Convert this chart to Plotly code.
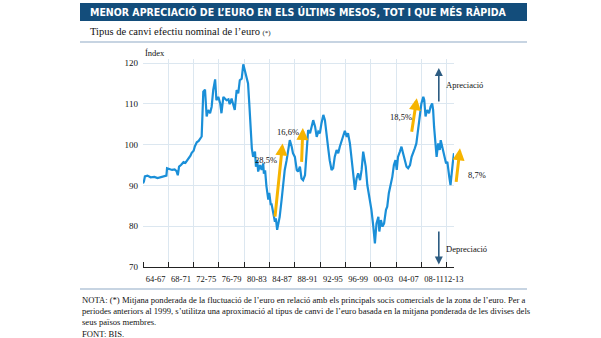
import plotly.graph_objects as go

# ---- data ----
years = [1964.0, 1964.15, 1964.3, 1964.7, 1965.2, 1965.8, 1966.3, 1966.8, 1967.3, 1967.7,
         1967.8, 1968.2, 1968.6, 1969.0, 1969.3, 1969.5, 1969.7, 1970.0, 1970.4, 1970.7,
         1970.9, 1971.2, 1971.5, 1971.7, 1972.0, 1972.2, 1972.5, 1972.8, 1973.0, 1973.27,
         1973.53, 1973.8, 1974.06, 1974.3, 1974.6, 1974.85, 1975.1, 1975.4, 1975.6, 1975.9,
         1976.2, 1976.4, 1976.7, 1976.95, 1977.2, 1977.5, 1977.7, 1978.0, 1978.3, 1978.5,
         1978.8, 1979.05, 1979.3, 1979.6, 1979.85, 1980.1, 1980.4, 1980.6, 1980.8, 1980.95,
         1981.2, 1981.4, 1981.7, 1981.85, 1982.05, 1982.2, 1982.5, 1982.75, 1983.0, 1983.1,
         1983.3, 1983.5, 1983.8, 1983.95, 1984.2, 1984.3, 1984.6, 1984.85, 1985.0, 1985.2,
         1985.4, 1985.6, 1985.9, 1986.15, 1986.4, 1986.7, 1986.95, 1987.2, 1987.5, 1987.7,
         1988.0, 1988.3, 1988.5, 1988.8, 1989.05, 1989.3, 1989.6, 1989.85, 1990.1, 1990.4,
         1990.65, 1990.9, 1991.2, 1991.45, 1991.7, 1991.95, 1992.2, 1992.5, 1992.75, 1993.0,
         1993.3, 1993.5, 1993.8, 1994.05, 1994.3, 1994.6, 1994.85, 1995.1, 1995.6, 1995.9,
         1996.2, 1996.4, 1996.7, 1996.95, 1997.2, 1997.5, 1997.75, 1998.0, 1998.3, 1998.55,
         1998.8, 1998.95, 1999.2, 1999.45, 1999.75, 2000.1, 2000.4, 2000.65, 2000.9, 2001.2,
         2001.35, 2001.6, 2001.85, 2002.1, 2002.4, 2002.6, 2002.85, 2003.1, 2003.4, 2003.65,
         2003.9, 2004.1, 2004.3, 2004.6, 2004.85, 2005.1, 2005.4, 2005.65, 2005.9, 2006.2,
         2006.45, 2006.7, 2006.95, 2007.2, 2007.5, 2007.75, 2008.0, 2008.3, 2008.45, 2008.65,
         2008.9, 2009.2, 2009.45, 2009.7, 2009.85, 2010.0, 2010.2, 2010.4, 2010.65, 2010.9,
         2011.05, 2011.3, 2011.45, 2011.7, 2011.9, 2012.1, 2012.2, 2012.4, 2012.6, 2012.75,
         2012.95, 2013.15]
index_values = [90.5, 91.0, 92.2, 92.4, 92.0, 92.1, 91.8, 92.0, 92.2, 92.4,
                94.2, 94.0, 93.8, 93.9, 93.5, 92.5, 94.6, 95.0, 95.7, 95.5,
                95.9, 96.5, 97.3, 98.0, 98.5, 99.6, 100.6, 100.9, 101.4, 102.0,
                113.0, 113.5, 106.9, 108.5, 107.7, 109.3, 113.4, 116.0, 110.9, 111.7,
                110.1, 107.7, 111.7, 111.3, 110.9, 111.1, 109.9, 111.3, 109.3, 108.5,
                113.4, 112.6, 115.8, 116.2, 119.7, 118.2, 116.6, 115.0, 110.0, 104.5,
                99.1, 97.0, 98.3, 94.6, 96.2, 93.4, 95.0, 93.8, 95.4, 92.9,
                93.7, 89.9, 86.5, 88.2, 85.2, 85.6, 83.2, 81.1, 81.9, 79.1,
                80.7, 82.3, 86.4, 90.5, 93.8, 96.2, 98.7, 101.1, 99.5, 97.9,
                97.0, 93.8, 93.4, 94.6, 91.7, 91.3, 92.5, 97.0, 103.6, 102.8,
                104.4, 106.0, 104.4, 101.9, 103.2, 102.8, 105.2, 107.3, 106.0, 101.9,
                98.7, 96.2, 93.8, 94.2, 97.0, 98.7, 97.9, 99.5, 101.9, 103.4,
                101.9, 102.8, 100.3, 97.0, 93.8, 88.9, 91.7, 93.0, 91.3, 93.8,
                98.3, 97.1, 94.6, 90.1, 87.6, 84.0, 79.9, 75.8, 80.7, 82.3,
                78.7, 81.5, 79.9, 80.7, 84.0, 84.8, 88.1, 89.7, 92.1, 95.0,
                96.2, 93.8, 97.0, 98.3, 99.5, 97.9, 95.8, 94.6, 94.2, 95.0,
                97.0, 97.9, 99.1, 100.3, 103.6, 106.9, 110.1, 111.7, 110.9, 106.9,
                108.5, 107.7, 109.3, 110.1, 108.5, 104.4, 101.5, 97.0, 100.3, 98.7,
                101.1, 99.5, 97.9, 97.0, 95.4, 95.8, 93.8, 92.1, 90.1, 92.9,
                95.4, 97.9]

period_bounds = [1964, 1968, 1972, 1976, 1980, 1984, 1988, 1992, 1996, 2000, 2004, 2008, 2012]
period_label_pos = [1966, 1970, 1974, 1978, 1982, 1986, 1990, 1994, 1998, 2002, 2006, 2010, 2013.1]
period_labels = ["64-67", "68-71", "72-75", "76-79", "80-83", "84-87", "88-91", "92-95",
                 "96-99", "00-03", "04-07", "08-11", "12-13"]
y_ticks = [70, 80, 90, 100, 110, 120]

# rises marked with orange arrows: (start year, start value, end year, end value, label)
rises = [
    (1984.84, 82.0, 1986.06, 100.3, "28,5%"),
    (1989.06, 95.4, 1989.26, 104.1, "16,6%"),
    (2006.43, 102.8, 2007.27, 111.4, "18,5%"),
]

title = "MENOR APRECIACIÓ DE L’EURO EN ELS ÚLTIMS MESOS, TOT I QUE MÉS RÀPIDA"
subtitle = "Tipus de canvi efectiu nominal de l’euro"
note_lines = [
    "NOTA: (*) Mitjana ponderada de la fluctuació de l’euro en relació amb els principals socis comercials de la zona de l’euro. Per a",
    "periodes anteriors al 1999, s’utilitza una aproximació al tipus de canvi de l’euro basada en la mitjana ponderada de les divises dels",
    "seus països membres.",
    "FONT: BIS.",
]

# ---- layout geometry (pixels) ----
W, H = 601, 338
L, R, T, B = 143, 147, 59, 71
PW, PH = W - L - R, H - T - B

def px(x):
    return (x - L) / PW

def py(y):
    return (H - B - y) / PH

SERIF = "Liberation Serif"
BLUE = "#1a8fd8"
ORANGE = "#f6b400"
DARK = "#2d5c82"
RULE = "#8fa9c5"
GRID = "#dce7f0"

fig = go.Figure()
fig.add_trace(go.Scatter(x=years, y=index_values, mode="lines",
                         line=dict(color=BLUE, width=2.2), hoverinfo="skip"))

ann = []
shapes = []

# header band + title
shapes.append(dict(type="rect", xref="paper", yref="paper", x0=px(80), x1=px(527),
                   y0=py(21), y1=py(3), fillcolor="#134d7b", line=dict(width=0), layer="below"))
ann.append(dict(text=title, xref="paper", yref="paper", x=px(88), y=py(12), xanchor="left",
                yanchor="middle", showarrow=False,
                font=dict(family="DejaVu Sans Condensed", size=10.5, color="white", weight="bold")))
# subtitle
ann.append(dict(text=subtitle + " <span style='font-size:7px'>(*)</span>", xref="paper", yref="paper",
                x=px(88), y=py(31), xanchor="left", yanchor="middle", showarrow=False,
                font=dict(family=SERIF, size=10.5, color="#111")))
shapes.append(dict(type="line", xref="paper", yref="paper", x0=px(80), x1=px(527),
                   y0=py(42), y1=py(42), line=dict(color=RULE, width=1)))
# Index label
ann.append(dict(text="Índex", xref="paper", yref="paper", x=px(143), y=py(53), xanchor="left",
                yanchor="middle", showarrow=False, font=dict(family=SERIF, size=8.5, color="#111")))

# orange arrows
for x0, y0, x1, y1, lab in rises:
    ann.append(dict(x=x1, y=y1, ax=x0, ay=y0, xref="x", yref="y", axref="x", ayref="y",
                    text="", showarrow=True, arrowhead=2, arrowsize=0.8, arrowwidth=3,
                    arrowcolor=ORANGE))
label_pos = {"28,5%": (1983.5, 96.2), "16,6%": (1986.9, 103.1), "18,5%": (2004.75, 106.8)}
for lab, (lx, ly) in label_pos.items():
    ann.append(dict(x=lx, y=ly, xref="x", yref="y", text=lab, showarrow=False,
                    xanchor="center", yanchor="middle",
                    font=dict(family=SERIF, size=8.5, color="#111")))
# last rise (beyond axis end)
ann.append(dict(x=px(460), y=99.1, xref="paper", yref="y", ax=-4, ay=35, text="",
                showarrow=True, arrowhead=2, arrowsize=0.8, arrowwidth=3, arrowcolor=ORANGE))
ann.append(dict(x=px(466), y=92.5, xref="paper", yref="y", text="8,7%", showarrow=False,
                xanchor="left", yanchor="middle", font=dict(family=SERIF, size=8.5, color="#111")))

# appreciation / depreciation arrows
ann.append(dict(x=2010.75, y=118.8, ax=2010.75, ay=110.2, xref="x", yref="y", axref="x", ayref="y",
                text="", showarrow=True, arrowhead=2, arrowsize=1, arrowwidth=1.6, arrowcolor=DARK))
ann.append(dict(x=2010.75, y=70.6, ax=2010.75, ay=79.1, xref="x", yref="y", axref="x", ayref="y",
                text="", showarrow=True, arrowhead=2, arrowsize=1, arrowwidth=1.6, arrowcolor=DARK))
ann.append(dict(x=2011.55, y=114.6, xref="x", yref="y", text="Apreciació", showarrow=False,
                xanchor="left", yanchor="middle", font=dict(family=SERIF, size=8.5, color="#111")))
ann.append(dict(x=2011.55, y=74.4, xref="x", yref="y", text="Depreciació", showarrow=False,
                xanchor="left", yanchor="middle", font=dict(family=SERIF, size=8.5, color="#111")))

# footer
shapes.append(dict(type="line", xref="paper", yref="paper", x0=px(80), x1=px(527),
                   y0=py(289), y1=py(289), line=dict(color=RULE, width=1)))
for i, line in enumerate(note_lines):
    ann.append(dict(text=line, xref="paper", yref="paper", x=px(80), y=py(300 + 11.2 * i),
                    xanchor="left", yanchor="middle", showarrow=False,
                    font=dict(family=SERIF, size=8.6, color="#111")))

fig.update_layout(
    width=W, height=H, margin=dict(l=L, r=R, t=T, b=B, pad=0),
    paper_bgcolor="white", plot_bgcolor="white", showlegend=False,
    annotations=ann, shapes=shapes,
    xaxis=dict(range=[1964, 2013.15], showline=True, linecolor="#222", linewidth=1,
               tickmode="array", tickvals=period_label_pos, ticktext=period_labels,
               ticks="", tickangle=0, showgrid=False, zeroline=False, ticklabelstandoff=4,
               tickfont=dict(family=SERIF, size=8.5, color="#111"),
               minor=dict(tickmode="array", tickvals=period_bounds, ticks="inside", ticklen=5,
                          tickcolor="#222", tickwidth=1, showgrid=True, gridcolor=GRID, gridwidth=1)),
    yaxis=dict(range=[70, 121], tickmode="array", tickvals=y_ticks, showgrid=True,
               gridcolor=GRID, gridwidth=1, showline=False, zeroline=False, ticks="",
               ticklabelstandoff=4, tickfont=dict(family=SERIF, size=9, color="#111")),
)

fig.write_html("out.html")
